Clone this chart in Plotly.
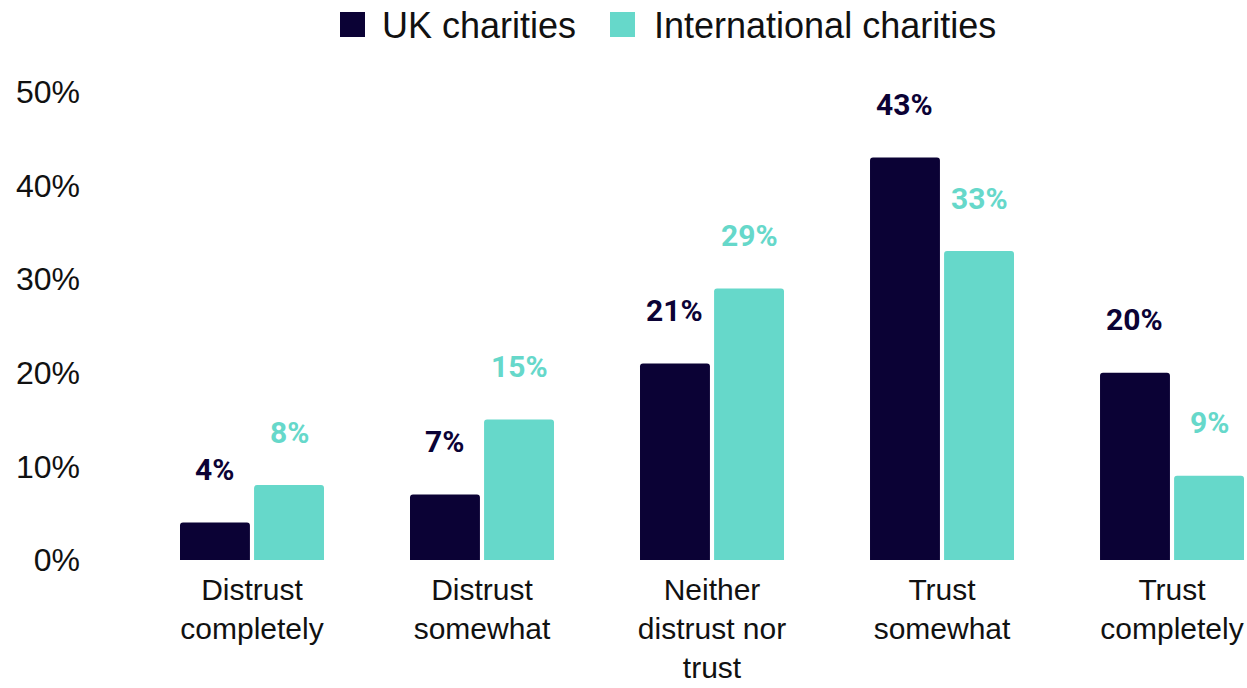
import plotly.graph_objects as go

# Survey answers and the share of respondents for each charity type
categories = ["Distrust<br>completely", "Distrust<br>somewhat",
              "Neither<br>distrust nor<br>trust", "Trust<br>somewhat", "Trust<br>completely"]
uk_values = [4, 7, 21, 43, 20]
intl_values = [8, 15, 29, 33, 9]
series_names = ["UK charities", "International charities"]
y_ticks = [0, 10, 20, 30, 40, 50]
y_tick_labels = ["0%", "10%", "20%", "30%", "40%", "50%"]

NAVY = "#0b0235"
TEAL = "#66d8ca"
TEXT = "#111111"
SANS = "Liberation Sans, Arial, sans-serif"
BOLD = "Roboto, Arial, sans-serif"

W, H = 1247, 688
M_L, M_R, M_T, M_B = 88, 0, 92, 128
BAR_W = 0.304
OFFSETS = [-0.313, 0.009]

x_idx = list(range(len(categories)))

fig = go.Figure()
for name, vals, col, off in zip(series_names, [uk_values, intl_values], [NAVY, TEAL], OFFSETS):
    fig.add_trace(go.Bar(
        x=x_idx, y=vals, name=name, marker=dict(color=col, line=dict(width=0)),
        width=BAR_W, offset=off, showlegend=False, hoverinfo="skip",
    ))
    # value label centred above each bar
    for i, v in zip(x_idx, vals):
        fig.add_annotation(
            x=i + off + BAR_W / 2, y=v, xref="x", yref="y",
            text=f"{v}%", showarrow=False, yanchor="middle", yshift=53,
            font=dict(family=BOLD, size=30, color=col, weight="bold"),
        )

# Legend drawn as coloured squares with labels above the plot area
plot_w = W - M_L - M_R
plot_h = H - M_T - M_B


def px_x(px):
    return (px - M_L) / plot_w


def px_y(py):
    return (H - M_B - py) / plot_h


legend_items = [(series_names[0], NAVY, 340, 380), (series_names[1], TEAL, 610, 652)]
for name, col, sq_x, tx_x in legend_items:
    fig.add_shape(
        type="rect", xref="paper", yref="paper",
        x0=px_x(sq_x), x1=px_x(sq_x + 25), y0=px_y(37), y1=px_y(12),
        fillcolor=col, line=dict(width=0), layer="above",
    )
    fig.add_annotation(
        x=px_x(tx_x), y=px_y(25), xref="paper", yref="paper",
        text=name, showarrow=False, xanchor="left", yanchor="middle",
        font=dict(family=SANS, size=36, color=TEXT),
    )

fig.update_layout(
    width=W, height=H,
    margin=dict(l=M_L, r=M_R, t=M_T, b=M_B, pad=0, autoexpand=False),
    paper_bgcolor="white", plot_bgcolor="white",
    barcornerradius=3,
    showlegend=False,
    xaxis=dict(
        tickmode="array", tickvals=x_idx, ticktext=categories,
        range=[-0.713, 4.326], showgrid=False, zeroline=False, showline=False,
        ticks="", ticklabelstandoff=9, automargin=False,
        tickfont=dict(family=SANS, size=30, color=TEXT),
    ),
    yaxis=dict(
        tickmode="array", tickvals=y_ticks, ticktext=y_tick_labels,
        range=[0, 50], showgrid=False, zeroline=False, showline=False,
        ticks="", ticklabelstandoff=7, automargin=False,
        tickfont=dict(family=SANS, size=32, color=TEXT),
    ),
)

fig.write_html("out.html")
